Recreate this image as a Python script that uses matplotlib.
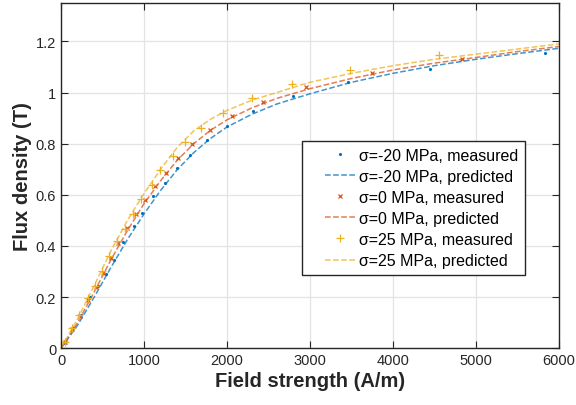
import matplotlib
matplotlib.use("Agg")
import matplotlib.pyplot as plt
from matplotlib.legend_handler import HandlerLine2D

plt.rcParams['font.family'] = ['Liberation Sans', 'DejaVu Sans']

# Measured data
H_m20 = [48, 140, 240, 354, 450, 539, 643, 752, 881, 981, 1113, 1250, 1395, 1556, 1765, 1998, 2320, 2795, 3458, 4443, 5838]
B_m20 = [0.02, 0.078, 0.128, 0.202, 0.244, 0.291, 0.346, 0.414, 0.477, 0.529, 0.594, 0.645, 0.706, 0.754, 0.813, 0.869, 0.928, 0.987, 1.043, 1.094, 1.154]

H_0 = [48, 137, 229, 322, 418, 511, 603, 692, 800, 905, 1010, 1134, 1267, 1415, 1584, 1797, 2066, 2440, 2955, 3748, 4833]
B_0 = [0.024, 0.076, 0.127, 0.19, 0.239, 0.294, 0.353, 0.412, 0.47, 0.525, 0.578, 0.634, 0.686, 0.742, 0.797, 0.853, 0.908, 0.964, 1.02, 1.078, 1.133]

H_25 = [48, 129, 217, 322, 410, 491, 583, 671, 772, 872, 965, 1094, 1194, 1347, 1496, 1689, 1951, 2300, 2783, 3486, 4551]
B_25 = [0.024, 0.078, 0.13, 0.196, 0.244, 0.30, 0.362, 0.418, 0.467, 0.525, 0.582, 0.64, 0.695, 0.751, 0.806, 0.863, 0.921, 0.978, 1.033, 1.089, 1.146]

# Predicted curves
H_pred = [0, 200, 400, 600, 800, 1000, 1200, 1400, 1600, 1800, 2000, 2300, 2600, 3000, 3500, 4000, 4500, 5000, 5500, 6000]
Bp_m20 = [0, 0.09, 0.20, 0.315, 0.425, 0.525, 0.617, 0.698, 0.765, 0.82, 0.865, 0.915, 0.955, 0.995, 1.04, 1.075, 1.105, 1.13, 1.152, 1.173]
Bp_0 = [0, 0.10, 0.22, 0.345, 0.46, 0.565, 0.655, 0.735, 0.80, 0.852, 0.893, 0.94, 0.977, 1.015, 1.055, 1.088, 1.115, 1.137, 1.16, 1.18]
Bp_25 = [0, 0.115, 0.245, 0.38, 0.50, 0.605, 0.70, 0.785, 0.85, 0.895, 0.93, 0.97, 1.00, 1.04, 1.075, 1.105, 1.13, 1.15, 1.17, 1.19]

c_blue = '#0072BD'
c_red = '#D95319'
c_yel = '#EDB120'

fig = plt.figure(figsize=(5.76, 4.06), dpi=100)
ax = fig.add_axes([0.106, 0.140, 0.864, 0.850])

ax.plot(H_m20, B_m20, linestyle='none', marker='.', markersize=2.5, color=c_blue, label='σ=-20 MPa, measured')
ax.plot(H_pred, Bp_m20, linestyle='--', color=c_blue, alpha=0.75, linewidth=1.1, label='σ=-20 MPa, predicted')
ax.plot(H_0, B_0, linestyle='none', marker='x', markersize=3.5, markeredgewidth=0.9, color=c_red, label='σ=0 MPa, measured')
ax.plot(H_pred, Bp_0, linestyle='--', color=c_red, alpha=0.75, linewidth=1.1, label='σ=0 MPa, predicted')
ax.plot(H_25, B_25, linestyle='none', marker='+', markersize=6, markeredgewidth=0.9, color=c_yel, label='σ=25 MPa, measured')
ax.plot(H_pred, Bp_25, linestyle='--', color=c_yel, alpha=0.75, linewidth=1.1, label='σ=25 MPa, predicted')

ax.set_xlim(0, 6000)
ax.set_ylim(0, 1.35)
ax.set_xticks([0, 1000, 2000, 3000, 4000, 5000, 6000])
ax.set_yticks([0, 0.2, 0.4, 0.6, 0.8, 1.0, 1.2])
ax.set_yticklabels(['0', '0.2', '0.4', '0.6', '0.8', '1', '1.2'])
ax.grid(True, color='#e3e3e3', linewidth=0.9)
ax.set_axisbelow(True)
ax.tick_params(direction='in', top=True, right=True, labelsize=10.5, colors='#262626', length=5)
for s in ax.spines.values():
    s.set_color('#262626')
    s.set_linewidth(1.0)

ax.set_xlabel('Field strength (A/m)', fontsize=14.5, fontweight='bold', color='#262626', labelpad=3)
ax.set_ylabel('Flux density (T)', fontsize=14.5, fontweight='bold', color='#262626', labelpad=3)

hmap = {l: HandlerLine2D(numpoints=1, xpad=1.0) for l in ax.get_lines()}
leg = ax.legend(loc='upper left', bbox_to_anchor=(0.484, 0.60), borderaxespad=0, fontsize=11.5,
                fancybox=False, edgecolor='#262626', framealpha=1, handlelength=2.9,
                handletextpad=0.25, labelspacing=0.38, borderpad=0.42, handler_map=hmap)
leg.get_frame().set_linewidth(1.0)

fig.savefig('out.png', dpi=100)
